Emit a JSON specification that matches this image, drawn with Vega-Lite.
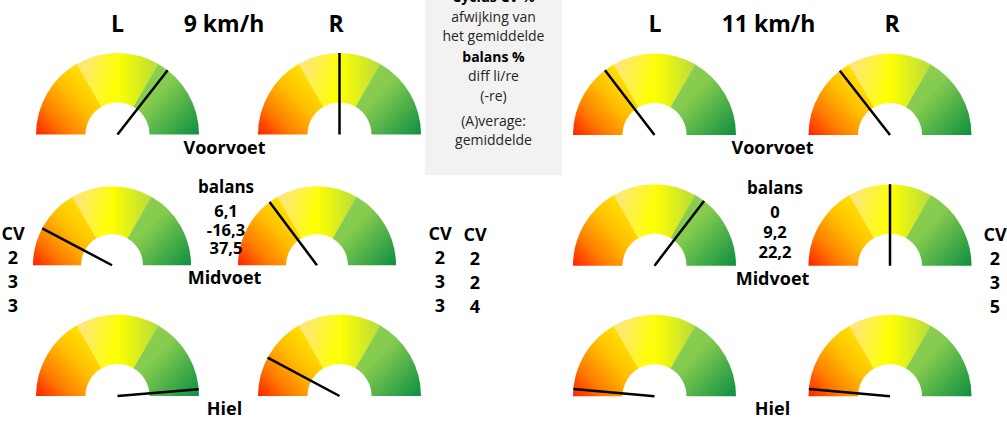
{
  "$schema": "https://vega.github.io/schema/vega-lite/v6.json",
  "padding": 0,
  "spacing": 0,
  "bounds": "flush",
  "config": {
    "view": {"stroke": null},
    "font": "Open Sans",
    "text": {"font": "Open Sans", "color": "#000000"},
    "locale": {"number": {"decimal": ",", "thousands": ".", "grouping": [3], "currency": ["€", ""], "minus": "-"}}
  },
  "datasets": {
    "meters": [
      {"zone": "Voorvoet", "snelheid": "9 km/h", "kant": "L", "waarde": 71.1, "cv": 2},
      {"zone": "Voorvoet", "snelheid": "9 km/h", "kant": "R", "waarde": 50, "cv": 2},
      {"zone": "Midvoet", "snelheid": "9 km/h", "kant": "L", "waarde": 15.5, "cv": 3},
      {"zone": "Midvoet", "snelheid": "9 km/h", "kant": "R", "waarde": 29.5, "cv": 3},
      {"zone": "Hiel", "snelheid": "9 km/h", "kant": "L", "waarde": 97.4, "cv": 3},
      {"zone": "Hiel", "snelheid": "9 km/h", "kant": "R", "waarde": 15.6, "cv": 3},
      {"zone": "Voorvoet", "snelheid": "11 km/h", "kant": "L", "waarde": 29.2, "cv": 2},
      {"zone": "Voorvoet", "snelheid": "11 km/h", "kant": "R", "waarde": 28.9, "cv": 2},
      {"zone": "Midvoet", "snelheid": "11 km/h", "kant": "L", "waarde": 70.8, "cv": 2},
      {"zone": "Midvoet", "snelheid": "11 km/h", "kant": "R", "waarde": 50, "cv": 3},
      {"zone": "Hiel", "snelheid": "11 km/h", "kant": "L", "waarde": 2.9, "cv": 4},
      {"zone": "Hiel", "snelheid": "11 km/h", "kant": "R", "waarde": 2.9, "cv": 5}
    ],
    "balans": [
      {"snelheid": "9 km/h", "zone": "Voorvoet", "balans": 6.1},
      {"snelheid": "9 km/h", "zone": "Midvoet", "balans": -16.3},
      {"snelheid": "9 km/h", "zone": "Hiel", "balans": 37.5},
      {"snelheid": "11 km/h", "zone": "Voorvoet", "balans": 0},
      {"snelheid": "11 km/h", "zone": "Midvoet", "balans": 9.2},
      {"snelheid": "11 km/h", "zone": "Hiel", "balans": 22.2}
    ],
    "uitleg": [
      {"regel": 0, "soort": "kop", "tekst": "Cyclus CV %"},
      {"regel": 1, "soort": "tekst", "tekst": "afwijking van"},
      {"regel": 2, "soort": "tekst", "tekst": "het gemiddelde"},
      {"regel": 3, "soort": "kop", "tekst": "balans %"},
      {"regel": 4, "soort": "tekst", "tekst": "diff li/re"},
      {"regel": 5, "soort": "tekst", "tekst": "(-re)"},
      {"regel": 6, "soort": "tekst", "tekst": "(A)verage:"},
      {"regel": 7, "soort": "tekst", "tekst": "gemiddelde"}
    ]
  },
  "hconcat": [
    {
      "width": 425,
      "height": 424,
      "resolve": {"scale": {"x": "independent", "xOffset": "independent", "yOffset": "independent"}},
      "layer": [
        {
          "data": {"name": "meters"},
          "transform": [{"filter": "datum.snelheid == '9 km/h' && datum.zone != 'Midvoet'"}],
          "encoding": {
            "x": {"field": "kant", "type": "nominal", "scale": {"type": "point", "domain": ["L", "R"], "range": [117.5, 339.5], "padding": 0}, "axis": null},
            "y": {"field": "zone", "type": "nominal", "scale": {"type": "point", "domain": ["Voorvoet", "Midvoet", "Hiel"], "range": [134.5, 396], "padding": 0}, "axis": null}
          },
          "layer": [
            {"mark": {"type": "arc", "innerRadius": 32, "outerRadius": 81.5, "fill": {"gradient": "linear", "x1": 0, "y1": 1, "x2": 1, "y2": 0, "stops": [{"offset": 0, "color": "#ff2000"}, {"offset": 0.25, "color": "#ff7a00"}, {"offset": 0.55, "color": "#ffc000"}, {"offset": 0.8, "color": "#ffe000"}, {"offset": 1, "color": "#ffec10"}]}},
             "encoding": {"theta": {"datum": 0, "type": "quantitative", "scale": {"domain": [0, 100], "range": [-1.5707963, 1.5707963]}}, "theta2": {"datum": 33.4}}},
            {"mark": {"type": "arc", "innerRadius": 32, "outerRadius": 81.5, "fill": {"gradient": "linear", "x1": 0, "y1": 0.2, "x2": 1, "y2": 0.5, "stops": [{"offset": 0, "color": "#ffe38a"}, {"offset": 1, "color": "#ffff00"}]}},
             "encoding": {"theta": {"datum": 33.33, "type": "quantitative", "scale": {"domain": [0, 100], "range": [-1.5707963, 1.5707963]}}, "theta2": {"datum": 50.1}}},
            {"mark": {"type": "arc", "innerRadius": 32, "outerRadius": 81.5, "fill": {"gradient": "linear", "x1": 0, "y1": 0.5, "x2": 1, "y2": 0.5, "stops": [{"offset": 0, "color": "#ffff00"}, {"offset": 1, "color": "#b8dc3c"}]}},
             "encoding": {"theta": {"datum": 50, "type": "quantitative", "scale": {"domain": [0, 100], "range": [-1.5707963, 1.5707963]}}, "theta2": {"datum": 66.8}}},
            {"mark": {"type": "arc", "innerRadius": 32, "outerRadius": 81.5, "fill": {"gradient": "linear", "x1": 0, "y1": 0, "x2": 1, "y2": 1, "stops": [{"offset": 0, "color": "#92d050"}, {"offset": 0.4, "color": "#84cb4e"}, {"offset": 1, "color": "#0d8f42"}]}},
             "encoding": {"theta": {"datum": 66.67, "type": "quantitative", "scale": {"domain": [0, 100], "range": [-1.5707963, 1.5707963]}}, "theta2": {"datum": 100}}},
            {"mark": {"type": "arc", "innerRadius": 0, "outerRadius": 81.5, "filled": false, "color": "#000000", "strokeWidth": 2.5},
             "encoding": {"theta": {"field": "waarde", "type": "quantitative", "scale": {"domain": [0, 100], "range": [-1.5707963, 1.5707963]}}, "theta2": {"field": "waarde"}}}
          ]
        },
        {
          "data": {"name": "meters"},
          "transform": [{"filter": "datum.snelheid == '9 km/h' && datum.zone == 'Midvoet'"}],
          "encoding": {
            "x": {"field": "kant", "type": "nominal", "scale": {"type": "point", "domain": ["L", "R"], "range": [112, 317], "padding": 0}, "axis": null},
            "y": {"field": "zone", "type": "nominal", "scale": {"type": "point", "domain": ["Voorvoet", "Midvoet", "Hiel"], "range": [134.5, 396], "padding": 0}, "axis": null}
          },
          "layer": [
            {"mark": {"type": "arc", "innerRadius": 31, "outerRadius": 79, "fill": {"gradient": "linear", "x1": 0, "y1": 1, "x2": 1, "y2": 0, "stops": [{"offset": 0, "color": "#ff2000"}, {"offset": 0.25, "color": "#ff7a00"}, {"offset": 0.55, "color": "#ffc000"}, {"offset": 0.8, "color": "#ffe000"}, {"offset": 1, "color": "#ffec10"}]}},
             "encoding": {"theta": {"datum": 0, "type": "quantitative", "scale": {"domain": [0, 100], "range": [-1.5707963, 1.5707963]}}, "theta2": {"datum": 33.4}}},
            {"mark": {"type": "arc", "innerRadius": 31, "outerRadius": 79, "fill": {"gradient": "linear", "x1": 0, "y1": 0.2, "x2": 1, "y2": 0.5, "stops": [{"offset": 0, "color": "#ffe38a"}, {"offset": 1, "color": "#ffff00"}]}},
             "encoding": {"theta": {"datum": 33.33, "type": "quantitative", "scale": {"domain": [0, 100], "range": [-1.5707963, 1.5707963]}}, "theta2": {"datum": 50.1}}},
            {"mark": {"type": "arc", "innerRadius": 31, "outerRadius": 79, "fill": {"gradient": "linear", "x1": 0, "y1": 0.5, "x2": 1, "y2": 0.5, "stops": [{"offset": 0, "color": "#ffff00"}, {"offset": 1, "color": "#b8dc3c"}]}},
             "encoding": {"theta": {"datum": 50, "type": "quantitative", "scale": {"domain": [0, 100], "range": [-1.5707963, 1.5707963]}}, "theta2": {"datum": 66.8}}},
            {"mark": {"type": "arc", "innerRadius": 31, "outerRadius": 79, "fill": {"gradient": "linear", "x1": 0, "y1": 0, "x2": 1, "y2": 1, "stops": [{"offset": 0, "color": "#92d050"}, {"offset": 0.4, "color": "#84cb4e"}, {"offset": 1, "color": "#0d8f42"}]}},
             "encoding": {"theta": {"datum": 66.67, "type": "quantitative", "scale": {"domain": [0, 100], "range": [-1.5707963, 1.5707963]}}, "theta2": {"datum": 100}}},
            {"mark": {"type": "arc", "innerRadius": 0, "outerRadius": 79, "filled": false, "color": "#000000", "strokeWidth": 2.5},
             "encoding": {"theta": {"field": "waarde", "type": "quantitative", "scale": {"domain": [0, 100], "range": [-1.5707963, 1.5707963]}}, "theta2": {"field": "waarde"}}}
          ]
        },
        {
          "data": {"name": "meters"},
          "transform": [{"filter": "datum.snelheid == '9 km/h' && datum.zone == 'Voorvoet'"}],
          "mark": {"type": "text", "fontSize": 23, "fontWeight": "bold", "dy": -110},
          "encoding": {
            "x": {"field": "kant", "type": "nominal", "scale": {"type": "point", "domain": ["L", "R"], "range": [117.5, 336], "padding": 0}, "axis": null},
            "y": {"field": "zone", "type": "nominal", "scale": {"type": "point", "domain": ["Voorvoet", "Midvoet", "Hiel"], "range": [134.5, 396], "padding": 0}, "axis": null},
            "text": {"field": "kant", "type": "nominal"}
          }
        },
        {
          "data": {"name": "meters"},
          "transform": [{"filter": "datum.snelheid == '9 km/h' && datum.zone == 'Voorvoet' && datum.kant == 'L'"}],
          "mark": {"type": "text", "fontSize": 23, "fontWeight": "bold", "dy": -110, "dx": 106.5},
          "encoding": {
            "x": {"field": "kant", "type": "nominal", "scale": {"type": "point", "domain": ["L", "R"], "range": [117.5, 339.5], "padding": 0}, "axis": null},
            "y": {"field": "zone", "type": "nominal", "scale": {"type": "point", "domain": ["Voorvoet", "Midvoet", "Hiel"], "range": [134.5, 396], "padding": 0}, "axis": null},
            "text": {"field": "snelheid", "type": "nominal"}
          }
        },
        {
          "data": {"name": "meters"},
          "transform": [{"filter": "datum.snelheid == '9 km/h' && datum.kant == 'L'"}],
          "mark": {"type": "text", "fontSize": 18, "fontWeight": "bold", "dy": 14, "dx": 107},
          "encoding": {
            "x": {"field": "kant", "type": "nominal", "scale": {"type": "point", "domain": ["L", "R"], "range": [117.5, 339.5], "padding": 0}, "axis": null},
            "y": {"field": "zone", "type": "nominal", "scale": {"type": "point", "domain": ["Voorvoet", "Midvoet", "Hiel"], "range": [134.5, 396], "padding": 0}, "axis": null},
            "text": {"field": "zone", "type": "nominal"}
          }
        },
        {
          "data": {"name": "balans"},
          "transform": [{"filter": "datum.snelheid == '9 km/h' && datum.zone == 'Voorvoet'"}],
          "mark": {"type": "text", "fontSize": 17, "fontWeight": "bold", "dy": -77, "dx": 108.5, "text": "balans"},
          "encoding": {
            "x": {"datum": "L", "type": "nominal", "scale": {"type": "point", "domain": ["L", "R"], "range": [117.5, 339.5], "padding": 0}, "axis": null},
            "y": {"datum": "Midvoet", "type": "nominal", "scale": {"type": "point", "domain": ["Voorvoet", "Midvoet", "Hiel"], "range": [134.5, 396], "padding": 0}, "axis": null}
          }
        },
        {
          "data": {"name": "balans"},
          "transform": [{"filter": "datum.snelheid == '9 km/h'"}],
          "mark": {"type": "text", "fontSize": 16.5, "fontWeight": "bold", "dx": 108.5},
          "encoding": {
            "x": {"datum": "L", "type": "nominal", "scale": {"type": "point", "domain": ["L", "R"], "range": [117.5, 339.5], "padding": 0}, "axis": null},
            "y": {"datum": "Midvoet", "type": "nominal", "scale": {"type": "point", "domain": ["Voorvoet", "Midvoet", "Hiel"], "range": [134.5, 396], "padding": 0}, "axis": null},
            "yOffset": {"field": "zone", "type": "nominal", "scale": {"type": "point", "domain": ["Voorvoet", "Midvoet", "Hiel"], "range": [-53, -16], "padding": 0}},
            "text": {"field": "balans", "type": "quantitative", "format": ".1~f"}
          }
        },
        {
          "data": {"name": "meters"},
          "transform": [{"filter": "datum.snelheid == '9 km/h' && datum.zone == 'Voorvoet'"}],
          "mark": {"type": "text", "fontSize": 18, "fontWeight": "bold", "dy": -30, "text": "CV"},
          "encoding": {
            "x": {"field": "kant", "type": "nominal", "scale": {"type": "point", "domain": ["L", "R"], "range": [117.5, 339.5], "padding": 0}, "axis": null},
            "xOffset": {"field": "kant", "type": "nominal", "scale": {"type": "point", "domain": ["L", "R"], "range": [-104.5, 100.5], "padding": 0}},
            "y": {"datum": "Midvoet", "type": "nominal", "scale": {"type": "point", "domain": ["Voorvoet", "Midvoet", "Hiel"], "range": [134.5, 396], "padding": 0}, "axis": null}
          }
        },
        {
          "data": {"name": "meters"},
          "transform": [{"filter": "datum.snelheid == '9 km/h'"}],
          "mark": {"type": "text", "fontSize": 18, "fontWeight": "bold"},
          "encoding": {
            "x": {"field": "kant", "type": "nominal", "scale": {"type": "point", "domain": ["L", "R"], "range": [117.5, 339.5], "padding": 0}, "axis": null},
            "xOffset": {"field": "kant", "type": "nominal", "scale": {"type": "point", "domain": ["L", "R"], "range": [-104.5, 100.5], "padding": 0}},
            "y": {"datum": "Midvoet", "type": "nominal", "scale": {"type": "point", "domain": ["Voorvoet", "Midvoet", "Hiel"], "range": [134.5, 396], "padding": 0}, "axis": null},
            "yOffset": {"field": "zone", "type": "nominal", "scale": {"type": "point", "domain": ["Voorvoet", "Midvoet", "Hiel"], "range": [-6, 42], "padding": 0}},
            "text": {"field": "cv", "type": "quantitative"}
          }
        }
      ]
    },
    {
      "width": 137,
      "height": 175,
      "view": {"fill": "#f2f2f2", "stroke": null},
      "data": {"name": "uitleg"},
      "encoding": {
        "y": {"field": "regel", "type": "quantitative", "scale": {"domain": [0, 1, 2, 3, 4, 5, 6, 7], "range": [-2, 18, 37, 58, 77, 97, 122, 141]}, "axis": null}
      },
      "layer": [
        {
          "transform": [{"filter": "datum.soort == 'tekst'"}],
          "mark": {"type": "text", "fontSize": 14, "clip": true, "color": "#262626"},
          "encoding": {"text": {"field": "tekst", "type": "nominal"}}
        },
        {
          "transform": [{"filter": "datum.soort == 'kop'"}],
          "mark": {"type": "text", "fontSize": 14, "fontWeight": "bold", "clip": true, "color": "#000000"},
          "encoding": {"text": {"field": "tekst", "type": "nominal"}}
        }
      ]
    },
    {
      "width": 445,
      "height": 424,
      "resolve": {"scale": {"x": "independent", "xOffset": "independent", "yOffset": "independent"}},
      "layer": [
        {
          "data": {"name": "meters"},
          "transform": [{"filter": "datum.snelheid == '11 km/h'"}],
          "encoding": {
            "x": {"field": "kant", "type": "nominal", "scale": {"type": "point", "domain": ["L", "R"], "range": [92.5, 328], "padding": 0}, "axis": null},
            "y": {"field": "zone", "type": "nominal", "scale": {"type": "point", "domain": ["Voorvoet", "Midvoet", "Hiel"], "range": [135, 396.3], "padding": 0}, "axis": null}
          },
          "layer": [
            {"mark": {"type": "arc", "innerRadius": 32, "outerRadius": 81.5, "fill": {"gradient": "linear", "x1": 0, "y1": 1, "x2": 1, "y2": 0, "stops": [{"offset": 0, "color": "#ff2000"}, {"offset": 0.25, "color": "#ff7a00"}, {"offset": 0.55, "color": "#ffc000"}, {"offset": 0.8, "color": "#ffe000"}, {"offset": 1, "color": "#ffec10"}]}},
             "encoding": {"theta": {"datum": 0, "type": "quantitative", "scale": {"domain": [0, 100], "range": [-1.5707963, 1.5707963]}}, "theta2": {"datum": 33.4}}},
            {"mark": {"type": "arc", "innerRadius": 32, "outerRadius": 81.5, "fill": {"gradient": "linear", "x1": 0, "y1": 0.2, "x2": 1, "y2": 0.5, "stops": [{"offset": 0, "color": "#ffe38a"}, {"offset": 1, "color": "#ffff00"}]}},
             "encoding": {"theta": {"datum": 33.33, "type": "quantitative", "scale": {"domain": [0, 100], "range": [-1.5707963, 1.5707963]}}, "theta2": {"datum": 50.1}}},
            {"mark": {"type": "arc", "innerRadius": 32, "outerRadius": 81.5, "fill": {"gradient": "linear", "x1": 0, "y1": 0.5, "x2": 1, "y2": 0.5, "stops": [{"offset": 0, "color": "#ffff00"}, {"offset": 1, "color": "#b8dc3c"}]}},
             "encoding": {"theta": {"datum": 50, "type": "quantitative", "scale": {"domain": [0, 100], "range": [-1.5707963, 1.5707963]}}, "theta2": {"datum": 66.8}}},
            {"mark": {"type": "arc", "innerRadius": 32, "outerRadius": 81.5, "fill": {"gradient": "linear", "x1": 0, "y1": 0, "x2": 1, "y2": 1, "stops": [{"offset": 0, "color": "#92d050"}, {"offset": 0.4, "color": "#84cb4e"}, {"offset": 1, "color": "#0d8f42"}]}},
             "encoding": {"theta": {"datum": 66.67, "type": "quantitative", "scale": {"domain": [0, 100], "range": [-1.5707963, 1.5707963]}}, "theta2": {"datum": 100}}},
            {"mark": {"type": "arc", "innerRadius": 0, "outerRadius": 81.5, "filled": false, "color": "#000000", "strokeWidth": 2.5},
             "encoding": {"theta": {"field": "waarde", "type": "quantitative", "scale": {"domain": [0, 100], "range": [-1.5707963, 1.5707963]}}, "theta2": {"field": "waarde"}}}
          ]
        },
        {
          "data": {"name": "meters"},
          "transform": [{"filter": "datum.snelheid == '11 km/h' && datum.zone == 'Voorvoet'"}],
          "mark": {"type": "text", "fontSize": 23, "fontWeight": "bold", "dy": -110},
          "encoding": {
            "x": {"field": "kant", "type": "nominal", "scale": {"type": "point", "domain": ["L", "R"], "range": [93, 330], "padding": 0}, "axis": null},
            "y": {"field": "zone", "type": "nominal", "scale": {"type": "point", "domain": ["Voorvoet", "Midvoet", "Hiel"], "range": [135, 396.3], "padding": 0}, "axis": null},
            "text": {"field": "kant", "type": "nominal"}
          }
        },
        {
          "data": {"name": "meters"},
          "transform": [{"filter": "datum.snelheid == '11 km/h' && datum.zone == 'Voorvoet' && datum.kant == 'L'"}],
          "mark": {"type": "text", "fontSize": 23, "fontWeight": "bold", "dy": -110, "dx": 114},
          "encoding": {
            "x": {"field": "kant", "type": "nominal", "scale": {"type": "point", "domain": ["L", "R"], "range": [92.5, 328], "padding": 0}, "axis": null},
            "y": {"field": "zone", "type": "nominal", "scale": {"type": "point", "domain": ["Voorvoet", "Midvoet", "Hiel"], "range": [135, 396.3], "padding": 0}, "axis": null},
            "text": {"field": "snelheid", "type": "nominal"}
          }
        },
        {
          "data": {"name": "meters"},
          "transform": [{"filter": "datum.snelheid == '11 km/h' && datum.kant == 'L'"}],
          "mark": {"type": "text", "fontSize": 18, "fontWeight": "bold", "dy": 14, "dx": 118},
          "encoding": {
            "x": {"field": "kant", "type": "nominal", "scale": {"type": "point", "domain": ["L", "R"], "range": [92.5, 328], "padding": 0}, "axis": null},
            "y": {"field": "zone", "type": "nominal", "scale": {"type": "point", "domain": ["Voorvoet", "Midvoet", "Hiel"], "range": [135, 396.3], "padding": 0}, "axis": null},
            "text": {"field": "zone", "type": "nominal"}
          }
        },
        {
          "data": {"name": "balans"},
          "transform": [{"filter": "datum.snelheid == '11 km/h' && datum.zone == 'Voorvoet'"}],
          "mark": {"type": "text", "fontSize": 17, "fontWeight": "bold", "dy": -77, "dx": 120.5, "text": "balans"},
          "encoding": {
            "x": {"datum": "L", "type": "nominal", "scale": {"type": "point", "domain": ["L", "R"], "range": [92.5, 328], "padding": 0}, "axis": null},
            "y": {"datum": "Midvoet", "type": "nominal", "scale": {"type": "point", "domain": ["Voorvoet", "Midvoet", "Hiel"], "range": [135, 396.3], "padding": 0}, "axis": null}
          }
        },
        {
          "data": {"name": "balans"},
          "transform": [{"filter": "datum.snelheid == '11 km/h'"}],
          "mark": {"type": "text", "fontSize": 16.5, "fontWeight": "bold", "dx": 120.5},
          "encoding": {
            "x": {"datum": "L", "type": "nominal", "scale": {"type": "point", "domain": ["L", "R"], "range": [92.5, 328], "padding": 0}, "axis": null},
            "y": {"datum": "Midvoet", "type": "nominal", "scale": {"type": "point", "domain": ["Voorvoet", "Midvoet", "Hiel"], "range": [135, 396.3], "padding": 0}, "axis": null},
            "yOffset": {"field": "zone", "type": "nominal", "scale": {"type": "point", "domain": ["Voorvoet", "Midvoet", "Hiel"], "range": [-53, -13], "padding": 0}},
            "text": {"field": "balans", "type": "quantitative", "format": ".1~f"}
          }
        },
        {
          "data": {"name": "meters"},
          "transform": [{"filter": "datum.snelheid == '11 km/h' && datum.zone == 'Voorvoet'"}],
          "mark": {"type": "text", "fontSize": 18, "fontWeight": "bold", "dy": -30, "text": "CV"},
          "encoding": {
            "x": {"field": "kant", "type": "nominal", "scale": {"type": "point", "domain": ["L", "R"], "range": [92.5, 328], "padding": 0}, "axis": null},
            "xOffset": {"field": "kant", "type": "nominal", "scale": {"type": "point", "domain": ["L", "R"], "range": [-179.5, 105], "padding": 0}},
            "y": {"datum": "Midvoet", "type": "nominal", "scale": {"type": "point", "domain": ["Voorvoet", "Midvoet", "Hiel"], "range": [135, 396.3], "padding": 0}, "axis": null}
          }
        },
        {
          "data": {"name": "meters"},
          "transform": [{"filter": "datum.snelheid == '11 km/h'"}],
          "mark": {"type": "text", "fontSize": 18, "fontWeight": "bold"},
          "encoding": {
            "x": {"field": "kant", "type": "nominal", "scale": {"type": "point", "domain": ["L", "R"], "range": [92.5, 328], "padding": 0}, "axis": null},
            "xOffset": {"field": "kant", "type": "nominal", "scale": {"type": "point", "domain": ["L", "R"], "range": [-179.5, 105], "padding": 0}},
            "y": {"datum": "Midvoet", "type": "nominal", "scale": {"type": "point", "domain": ["Voorvoet", "Midvoet", "Hiel"], "range": [135, 396.3], "padding": 0}, "axis": null},
            "yOffset": {"field": "zone", "type": "nominal", "scale": {"type": "point", "domain": ["Voorvoet", "Midvoet", "Hiel"], "range": [-6, 42], "padding": 0}},
            "text": {"field": "cv", "type": "quantitative"}
          }
        }
      ]
    }
  ]
}
